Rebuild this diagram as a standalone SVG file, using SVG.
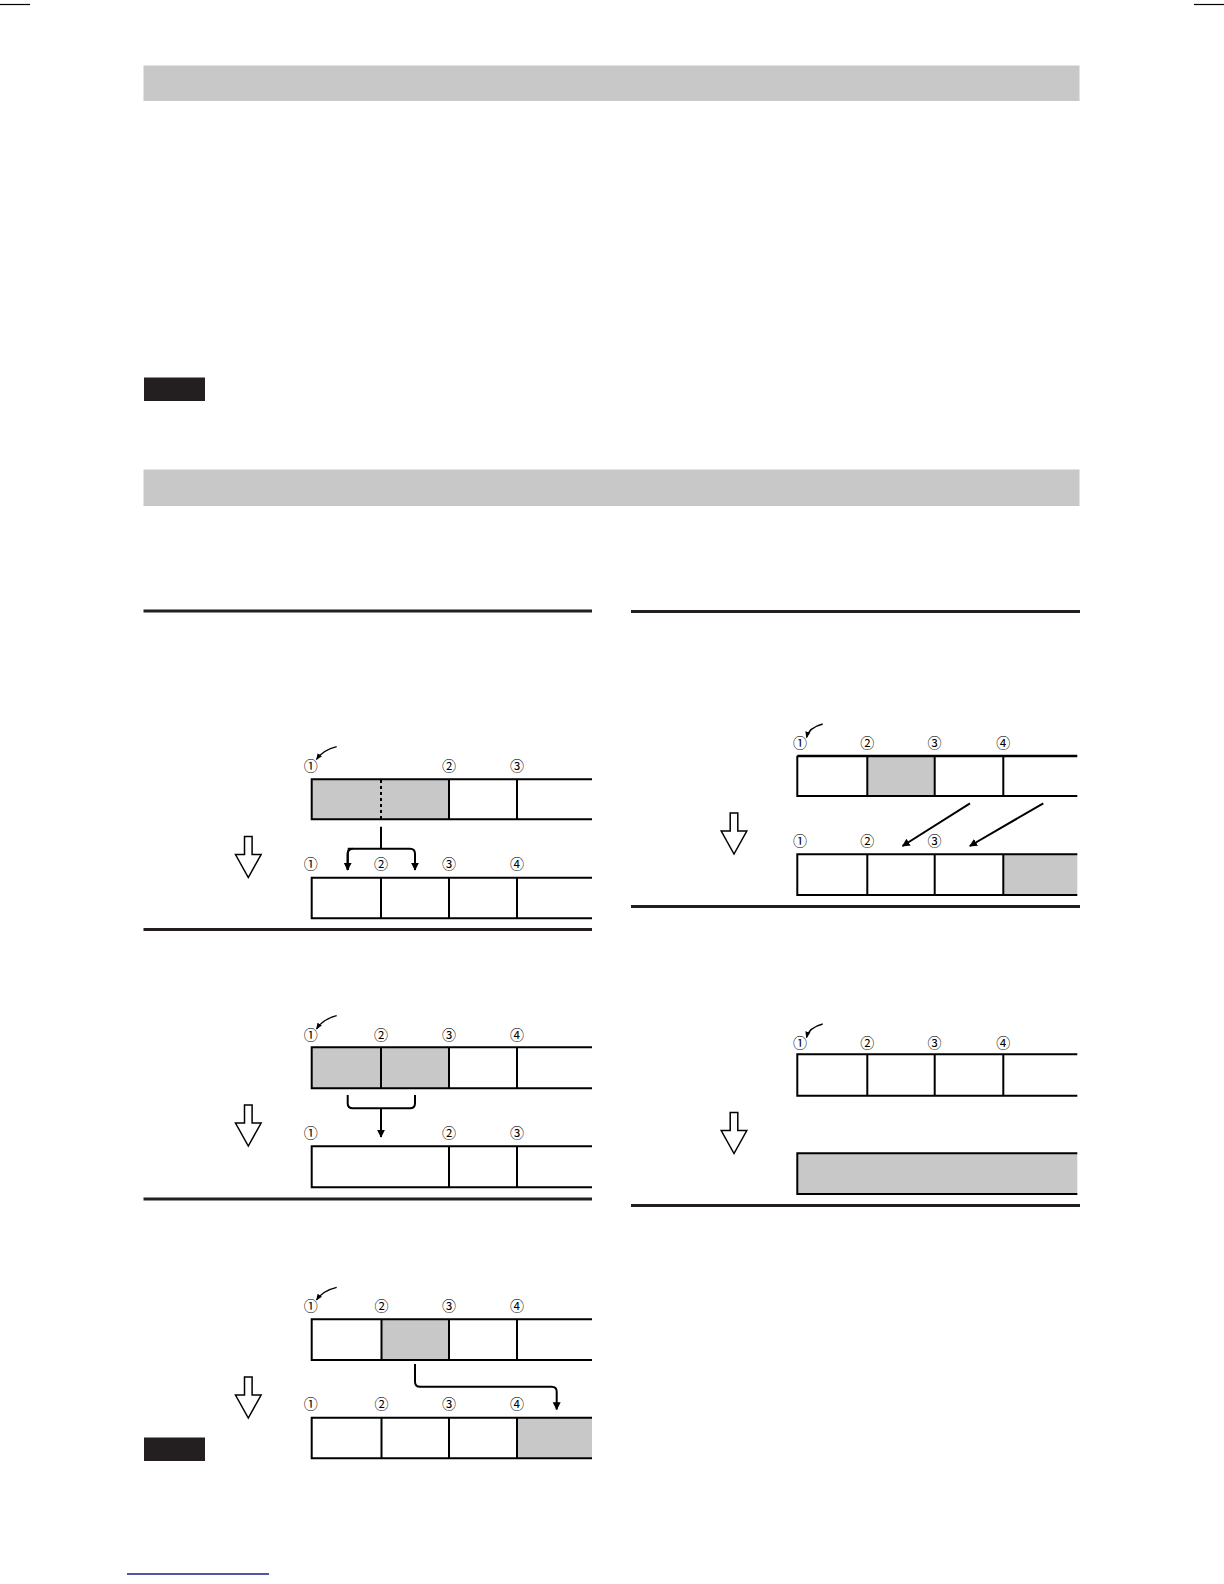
<svg xmlns="http://www.w3.org/2000/svg" width="1224" height="1584" viewBox="0 0 1224 1584">
<style>
.bar{fill:#c8c8c8}
.blk{fill:#231f20}
.sep{stroke:#231f20;stroke-width:3}
.box{fill:none;stroke:#000;stroke-width:2}
.g{fill:#c8c8c8}
.num{font-family:"Noto Sans CJK JP","Noto Sans CJK SC",sans-serif;font-size:14px;fill:#000;text-anchor:middle}
.con{fill:none;stroke:#000;stroke-width:2}
.hol{fill:#fff;stroke:#000;stroke-width:1.5;stroke-linejoin:miter}
</style>
<defs>
<marker id="ah" viewBox="0 0 10 10" refX="9" refY="5" markerWidth="4" markerHeight="5" orient="auto" markerUnits="strokeWidth">
<path d="M0,0 L10,5 L0,10 z" fill="#000"/>
</marker>
<marker id="ah2" viewBox="0 0 10 10" refX="9" refY="5" markerWidth="5" markerHeight="5" orient="auto" markerUnits="strokeWidth">
<path d="M0,1 L10,5 L0,9 z" fill="#000"/>
</marker>
<path id="down" class="hol" d="M-3.8,0 H3.8 V18 H12.8 L0,41 L-12.8,18 H-3.8 Z"/>
</defs>

<g id="page">
<line x1="0" y1="4.5" x2="30" y2="4.5" stroke="#000" stroke-width="1.2"/>
<line x1="1194" y1="4.5" x2="1224" y2="4.5" stroke="#000" stroke-width="1.2"/>
<rect id="header1" class="bar" x="143.5" y="65.5" width="936" height="35.5"/>
<rect id="note1" class="blk" x="144" y="377.5" width="61" height="23.5"/>
<rect id="header2" class="bar" x="143.5" y="469.5" width="936" height="36.5"/>
<line class="sep" x1="143.5" y1="611" x2="592" y2="611"/>
<line class="sep" x1="631" y1="611.5" x2="1080" y2="611.5"/>
<line class="sep" x1="143.5" y1="929.5" x2="592" y2="929.5"/>
<line class="sep" x1="143.5" y1="1199" x2="592" y2="1199"/>
<line class="sep" x1="631" y1="906.5" x2="1080" y2="906.5"/>
<line class="sep" x1="631" y1="1205.5" x2="1080" y2="1205.5"/>
<rect id="note2" class="blk" x="144" y="1437.5" width="61" height="23.5"/>
<line x1="127" y1="1574" x2="269" y2="1574" stroke="#1a1a8c" stroke-width="1.5"/>
</g>

<!-- Diagram 1: divide -->
<g id="diagram1">
<path d="M336.7,746.7 Q323,750 316.5,759.5" fill="none" stroke="#000" stroke-width="1.3" marker-end="url(#ah2)"/>
<text class="num" x="310.7" y="771">①</text>
<text class="num" x="449" y="771">②</text>
<text class="num" x="517" y="771">③</text>
<rect class="g" x="311.7" y="779.3" width="137.3" height="40"/>
<path class="box" d="M592,779.3 H311.7 V819.3 H592 M449,779.3 V819.3 M517,779.3 V819.3"/>
<line x1="381" y1="780" x2="381" y2="819" stroke="#000" stroke-width="2" stroke-dasharray="3,3"/>
<text class="num" x="310.7" y="869">①</text>
<text class="num" x="381" y="869">②</text>
<text class="num" x="449" y="869">③</text>
<text class="num" x="517" y="869">④</text>
<path class="box" d="M592,877.7 H311.7 V918.3 H592 M381,877.7 V918.3 M449,877.7 V918.3 M517,877.7 V918.3"/>
<use href="#down" x="248.3" y="836.5"/>
</g>

<!-- Diagram 2: combine -->
<g id="diagram2">
<path d="M336.7,1015.7 Q323,1019 316.5,1029" fill="none" stroke="#000" stroke-width="1.3" marker-end="url(#ah2)"/>
<text class="num" x="310.7" y="1040">①</text>
<text class="num" x="381" y="1040">②</text>
<text class="num" x="449" y="1040">③</text>
<text class="num" x="517" y="1040">④</text>
<rect class="g" x="311.7" y="1047.3" width="137.3" height="41"/>
<path class="box" d="M592,1047.3 H311.7 V1088.3 H592 M381,1047.3 V1088.3 M449,1047.3 V1088.3 M517,1047.3 V1088.3"/>
<text class="num" x="310.7" y="1138.3">①</text>
<text class="num" x="449" y="1138.3">②</text>
<text class="num" x="517" y="1138.3">③</text>
<path class="box" d="M592,1146.3 H311.7 V1187.3 H592 M449,1146.3 V1187.3 M517,1146.3 V1187.3"/>
<use href="#down" x="248.3" y="1105"/>
</g>

<!-- Diagram 3: move -->
<g id="diagram3">
<path d="M336.7,1287.3 Q323,1290.5 316.5,1300" fill="none" stroke="#000" stroke-width="1.3" marker-end="url(#ah2)"/>
<text class="num" x="310.7" y="1311">①</text>
<text class="num" x="381.5" y="1311">②</text>
<text class="num" x="449" y="1311">③</text>
<text class="num" x="517" y="1311">④</text>
<rect class="g" x="381.5" y="1319.3" width="67.5" height="40.7"/>
<path class="box" d="M592,1319.3 H311.7 V1360 H592 M381.5,1319.3 V1360 M449,1319.3 V1360 M517,1319.3 V1360"/>
<text class="num" x="310.7" y="1409">①</text>
<text class="num" x="381.5" y="1409">②</text>
<text class="num" x="449" y="1409">③</text>
<text class="num" x="517" y="1409">④</text>
<rect class="g" x="517" y="1417.7" width="75" height="40.6"/>
<path class="box" d="M592,1417.7 H311.7 V1458.3 H592 M381.5,1417.7 V1458.3 M449,1417.7 V1458.3 M517,1417.7 V1458.3"/>
<use href="#down" x="248.3" y="1377"/>
</g>

<!-- Diagram 4: delete -->
<g id="diagram4">
<path d="M822.7,724 Q809,727.5 806.5,737.5" fill="none" stroke="#000" stroke-width="1.3" marker-end="url(#ah2)"/>
<text class="num" x="800" y="747.5">①</text>
<text class="num" x="867.3" y="747.5">②</text>
<text class="num" x="934.5" y="747.5">③</text>
<text class="num" x="1003.3" y="747.5">④</text>
<rect class="g" x="867.3" y="755.7" width="67.4" height="40.3"/>
<path class="box" d="M1077.3,796 H797.3 V755.7 M867.3,755.7 V796 M934.7,755.7 V796 M1003.3,755.7 V796"/>
<line x1="797.3" y1="756" x2="1077.3" y2="756" stroke="#000" stroke-width="2.6"/>
<text class="num" x="800" y="845.5">①</text>
<text class="num" x="867.3" y="845.5">②</text>
<text class="num" x="934.5" y="845.5">③</text>
<rect class="g" x="1003.3" y="854.3" width="74" height="40.7"/>
<path class="box" d="M1077.3,854.3 H797.3 V895 H1077.3 M867.3,854.3 V895 M934.7,854.3 V895 M1003.3,854.3 V895"/>
<use href="#down" x="734" y="813"/>
</g>

<!-- Diagram 5: delete all -->
<g id="diagram5">
<path d="M822.7,1024 Q809,1027.5 806.5,1037.5" fill="none" stroke="#000" stroke-width="1.3" marker-end="url(#ah2)"/>
<text class="num" x="800" y="1047.5">①</text>
<text class="num" x="867.3" y="1047.5">②</text>
<text class="num" x="934.5" y="1047.5">③</text>
<text class="num" x="1003.3" y="1047.5">④</text>
<path class="box" d="M1077.3,1054.3 H797.3 V1095.7 H1077.3 M867.3,1054.3 V1095.7 M934.7,1054.3 V1095.7 M1003.3,1054.3 V1095.7"/>
<rect class="g" x="797.3" y="1153.3" width="280" height="40.7"/>
<path class="box" d="M1077.3,1153.3 H797.3 V1194 H1077.3"/>
<use href="#down" x="734" y="1112.5"/>
</g>

<g id="connectors">
<path class="con" d="M381,826.7 V848.7 M347.7,870 V853.7 Q347.7,848.7 352.7,848.7 H410 Q415,848.7 415,853.7 V870" marker-end="url(#ah)"/>
<path class="con" d="M347.7,848.7 H352.7 Q347.7,848.7 347.7,853.7 V870" marker-end="url(#ah)"/>
<path class="con" d="M347.7,1095 V1103.3 Q347.7,1108.3 352.7,1108.3 H410 Q415,1108.3 415,1103.3 V1095"/>
<path class="con" d="M381,1108.3 V1137" marker-end="url(#ah)"/>
<path class="con" d="M415,1364 V1381.7 Q415,1386.7 420,1386.7 H551.7 Q556.7,1386.7 556.7,1391.7 V1409.5" marker-end="url(#ah)"/>
<path class="con" d="M970,803.3 L902.5,846" marker-end="url(#ah)"/>
<path class="con" d="M1043.3,803.3 L969.8,846" marker-end="url(#ah)"/>
</g>
</svg>
